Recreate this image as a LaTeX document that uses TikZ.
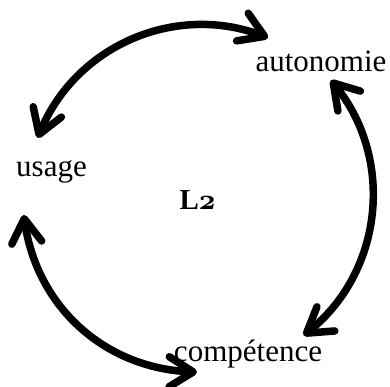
\documentclass[tikz,border=0pt]{standalone}
\usepackage{fontspec}
\setmainfont{Liberation Serif}
\newfontfamily\osfont[Numbers=OldStyle]{lmroman10-bold.otf}
\usetikzlibrary{arrows.meta,bending}
\begin{document}
\begin{tikzpicture}[x=1pt,y=1pt,
  lbl/.style={font=\fontsize{31}{36}\selectfont, inner sep=0pt, anchor=base},
  cyc/.style={line width=7.5pt, {Straight Barb[length=24pt,width=30pt,round]}-{Straight Barb[length=24pt,width=30pt,round]}}]
\useasboundingbox (0,0) rectangle (390,387);
\coordinate (O) at (200,189);
\node[lbl] (aut) at (321,315) {autonomie};
\node[lbl] (usa) at (51.5,210) {usage};
\node[lbl] (com) at (248,25) {compétence};
\node[lbl, font=\fontsize{29}{34}\selectfont\bfseries] (l2) at (198,177) {L\kern-1pt{\osfont 2}};
\coordinate (p1) at ([shift={(159.7:173)}]O);
\coordinate (p2) at ([shift={(67:174)}]O);
\coordinate (p3) at ([shift={(42:176)}]O);
\coordinate (p4) at ([shift={(-53:172)}]O);
\coordinate (p5) at ([shift={(185.5:177)}]O);
\coordinate (p6) at ([shift={(269:174)}]O);
\draw[cyc] (p1) to[bend left=46.35] (p2);
\draw[cyc] (p3) to[bend left=47.5] (p4);
\draw[cyc] (p5) to[bend right=41.75] (p6);
\end{tikzpicture}
\end{document}
